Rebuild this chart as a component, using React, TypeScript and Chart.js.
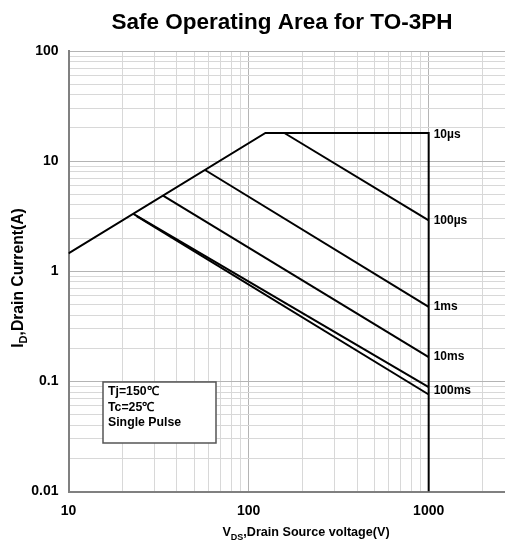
import React, { useEffect, useRef } from 'react';
import { Chart, registerables } from 'chart.js';

Chart.register(...registerables);

// ---- data ----
const titleText = 'Safe Operating Area for TO-3PH';

const xTickValues = [10, 20, 30, 40, 50, 60, 70, 80, 90, 100, 200, 300, 400, 500, 600, 700, 800, 900, 1000, 2000, 3000];
const xTickLabels = ['10', '100', '1000'];
const yTickValues = [
  0.01, 0.02, 0.03, 0.04, 0.05, 0.06, 0.07, 0.08, 0.09,
  0.1, 0.2, 0.3, 0.4, 0.5, 0.6, 0.7, 0.8, 0.9,
  1, 2, 3, 4, 5, 6, 7, 8, 9,
  10, 20, 30, 40, 50, 60, 70, 80, 90, 100,
];
const yTickLabels = ['0.01', '0.1', '1', '10', '100'];

// boundary (RDS limit, current limit, voltage limit) = 10µs curve
const limitV = [10, 124, 1000, 1000];
const limitI = [1.45, 18, 18, 0.01];
const us100V = [158, 1000];
const us100I = [18, 2.9];
const ms1V = [57.3, 1000];
const ms1I = [8.31, 0.474];
const ms10V = [33.5, 1000];
const ms10I = [4.86, 0.166];
const ms100aV = [22.9, 1000];
const ms100aI = [3.32, 0.0887];
const ms100bV = [23.9, 1000];
const ms100bI = [3.16, 0.076];

const curveLabels = ['10µs', '100µs', '1ms', '10ms', '100ms'];
const curveLabelV = [1000, 1000, 1000, 1000, 1000];
const curveLabelI = [17.25, 2.9, 0.474, 0.166, 0.083];

const notes = ['Tj=150℃', 'Tc=25℃', 'Single Pulse'];

const xTitleParts = ['V', 'DS', ',Drain Source voltage(V)'];
const yTitleParts = ['I', 'D', ',Drain Current(A)'];

const FONT = '"Liberation Sans", Arial, Helvetica, sans-serif';

function isDecade(v: number) {
  const l = Math.log10(v);
  return Math.abs(l - Math.round(l)) < 1e-6;
}

function drawSubTitle(ctx: CanvasRenderingContext2D, parts: string[], cx: number, cy: number, size: number) {
  const mainFont = `bold ${size}px ${FONT}`;
  const subSize = Math.round(size * 0.68);
  const subFont = `bold ${subSize}px ${FONT}`;
  const widths = parts.map((p, i) => {
    ctx.font = i === 1 ? subFont : mainFont;
    return ctx.measureText(p).width;
  });
  const total = widths.reduce((a, b) => a + b, 0);
  let x = cx - total / 2;
  ctx.textAlign = 'left';
  ctx.textBaseline = 'alphabetic';
  const base = cy + size * 0.35;
  parts.forEach((p, i) => {
    ctx.font = i === 1 ? subFont : mainFont;
    ctx.fillText(p, x, i === 1 ? base + size * 0.25 : base);
    x += widths[i];
  });
}

function mk(label: string, xs: number[], ys: number[]) {
  return {
    label,
    data: xs.map((x, i) => ({ x, y: ys[i] })),
    borderColor: '#000',
    backgroundColor: '#000',
    borderWidth: 2,
    pointRadius: 0,
    fill: false,
    tension: 0,
  };
}

export default function App() {
  const ref = useRef<HTMLCanvasElement>(null);

  useEffect(() => {
    const canvas = ref.current;
    if (!canvas) return;
    document.documentElement.style.overflow = 'hidden';
    document.body.style.overflow = 'hidden';

    const textPlugin = {
      id: 'soaTexts',
      afterDraw(chart: any) {
        const ctx: CanvasRenderingContext2D = chart.ctx;
        const ca = chart.chartArea;
        const xs = chart.scales.x;
        const ys = chart.scales.y;
        ctx.save();
        ctx.fillStyle = '#000';

        // title
        ctx.font = `bold 22.5px ${FONT}`;
        ctx.textAlign = 'center';
        ctx.textBaseline = 'middle';
        ctx.fillText(titleText, 274, 15);

        // curve labels
        ctx.font = `bold 12px ${FONT}`;
        ctx.textAlign = 'left';
        ctx.textBaseline = 'middle';
        curveLabels.forEach((t, i) => {
          ctx.fillText(t, xs.getPixelForValue(curveLabelV[i]) + 5, ys.getPixelForValue(curveLabelI[i]));
        });

        // notes box
        const bx = ca.left + 34.5;
        const by = ca.top + 331;
        const bw = 113;
        const bh = 61;
        ctx.fillStyle = '#fff';
        ctx.fillRect(bx, by, bw, bh);
        ctx.strokeStyle = '#555';
        ctx.lineWidth = 1.5;
        ctx.strokeRect(bx, by, bw, bh);
        ctx.fillStyle = '#000';
        ctx.font = `bold 12.3px ${FONT}`;
        notes.forEach((t, i) => {
          ctx.fillText(t, bx + 5, by + 10 + i * 15.5);
        });

        // x axis title
        drawSubTitle(ctx, xTitleParts, 298, 524, 12.6);

        // y axis title
        ctx.save();
        ctx.translate(10, 270);
        ctx.rotate(-Math.PI / 2);
        drawSubTitle(ctx, yTitleParts, 0, 0, 15.7);
        ctx.restore();

        ctx.restore();
      },
    };

    const gridColor = (c: any) => (c.tick && isDecade(c.tick.value) ? '#b4b4b4' : '#d8d8d8');

    const chart = new Chart(canvas, {
      type: 'line',
      data: {
        datasets: [
          mk('10µs', limitV, limitI),
          mk('100µs', us100V, us100I),
          mk('1ms', ms1V, ms1I),
          mk('10ms', ms10V, ms10I),
          mk('100ms', ms100aV, ms100aI),
          mk('100ms b', ms100bV, ms100bI),
        ] as any,
      },
      options: {
        animation: false,
        responsive: false,
        devicePixelRatio: 1,
        layout: { padding: { top: 43, right: 41.4, bottom: 0, left: 0 } },
        plugins: {
          legend: { display: false },
          tooltip: { enabled: false },
          title: { display: false },
        },
        scales: {
          x: {
            type: 'logarithmic',
            min: 10,
            max: 3000,
            afterBuildTicks: (s: any) => {
              s.ticks = xTickValues.map((v) => ({ value: v }));
            },
            afterFit: (s: any) => {
              s.height = 51.5;
            },
            grid: { color: gridColor, lineWidth: 1, drawTicks: false },
            border: { display: true, color: '#808080', width: 2 },
            ticks: {
              autoSkip: false,
              maxRotation: 0,
              padding: 11,
              color: '#000',
              font: { family: FONT, size: 14, weight: 'bold' },
              callback: (v: any) => {
                const s = String(Number(v));
                return xTickLabels.includes(s) ? s : '';
              },
            },
          },
          y: {
            type: 'logarithmic',
            min: 0.01,
            max: 100,
            afterBuildTicks: (s: any) => {
              s.ticks = yTickValues.map((v) => ({ value: v }));
            },
            afterFit: (s: any) => {
              s.width = 60.5;
            },
            grid: { color: gridColor, lineWidth: 1, drawTicks: false },
            border: { display: true, color: '#808080', width: 2 },
            ticks: {
              autoSkip: false,
              padding: 10,
              color: '#000',
              font: { family: FONT, size: 14, weight: 'bold' },
              callback: (v: any) => {
                const s = String(Number(v));
                return yTickLabels.includes(s) ? s : '';
              },
            },
          },
        },
      } as any,
      plugins: [textPlugin],
    });

    return () => chart.destroy();
  }, []);

  return (
    <div style={{ width: 548, height: 535, position: 'relative' }}>
      <canvas ref={ref} width={548} height={535} style={{ display: 'block', width: 548, height: 535 }} />
    </div>
  );
}
